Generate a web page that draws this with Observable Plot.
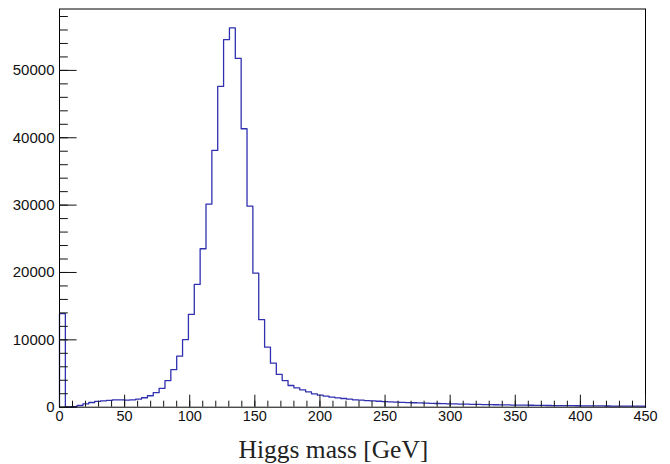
<!DOCTYPE html>
<html>
<head>
<meta charset="utf-8">
<script src="https://cdn.jsdelivr.net/npm/d3@7"></script>
<script src="https://cdn.jsdelivr.net/npm/@observablehq/plot@0.6"></script>
<style>
  html, body { margin: 0; padding: 0; background: white; }
</style>
</head>
<body>
<div id="chart"></div>
<script>
// Histogram definition: 100 bins from 0 to 450 GeV
const xMin = 0;
const xMax = 450;
const nBins = 100;

// Bin contents (entries per 4.5 GeV bin)
const counts = [
  13900, 30, 100, 250, 500, 700, 850, 950, 1000, 1080,
  1100, 1060, 1090, 1200, 1400, 1700, 2150, 2800, 3960, 5570,
  7570, 10030, 13770, 18220, 23520, 30150, 38120, 47620, 54560, 56300,
  51780, 41340, 29850, 19900, 13000, 8910, 6530, 4860, 3960, 3220,
  2880, 2580, 2280, 1990, 1780, 1630, 1490, 1390, 1290, 1190,
  1100, 1040, 980, 930, 880, 840, 800, 760, 720, 690,
  660, 630, 600, 575, 550, 525, 505, 485, 465, 445,
  425, 410, 395, 380, 365, 350, 335, 322, 310, 298,
  286, 275, 265, 255, 245, 236, 228, 220, 212, 205,
  198, 190, 183, 177, 170, 165, 160, 155, 150, 146
];

// Axis tick values
const xMajorTicks = [0, 50, 100, 150, 200, 250, 300, 350, 400, 450];
const xMinorTicks = d3.range(0, 451, 10);
const yMajorTicks = [0, 10000, 20000, 30000, 40000, 50000];
const yMinorTicks = d3.range(0, 59000, 2000);

const xTitle = "Higgs mass [GeV]";

// Build the step outline of the histogram (ROOT style)
const binWidth = (xMax - xMin) / nBins;
const outline = [{x: xMin, y: 0}];
counts.forEach((c, i) => {
  outline.push({x: xMin + i * binWidth, y: c});
  outline.push({x: xMin + (i + 1) * binWidth, y: c});
});
outline.push({x: xMax, y: 0});

const yTop = d3.max(counts) * 1.05;

const chart = Plot.plot({
  width: 670,
  height: 464,
  marginLeft: 59,
  marginRight: 25,
  marginTop: 8.5,
  marginBottom: 57.3,
  style: {fontFamily: "'Liberation Sans', Arial, sans-serif", fontSize: "14px", background: "white", color: "black"},
  x: {domain: [xMin, xMax]},
  y: {domain: [0, yTop]},
  marks: [
    Plot.line(outline, {x: "x", y: "y", stroke: "#3030b0", strokeWidth: 1.3}),
    Plot.frame({stroke: "black", strokeWidth: 1}),
    // y axis: inward ticks
    Plot.axisY({ticks: yMinorTicks, tickSize: -8.8, text: null, label: null, stroke: "#111"}),
    Plot.axisY({ticks: yMajorTicks, tickSize: -17.6, text: null, label: null, stroke: "#111"}),
    Plot.axisY({ticks: yMajorTicks, tickSize: 0, tickPadding: 5, tickFormat: d3.format("d"), label: null, fill: "#111", fontSize: 15}),
    // x axis: inward ticks
    Plot.axisX({ticks: xMinorTicks, tickSize: -6, text: null, label: null, stroke: "#111"}),
    Plot.axisX({ticks: xMajorTicks, tickSize: 0, tickPadding: 4, tickFormat: d3.format("d"), label: null, fill: "#111", fontSize: 14.5}),
    Plot.axisX({ticks: xMajorTicks, tickSize: -12, text: null, label: null, stroke: "#111"}),
    // axis title
    Plot.text([xTitle], {frameAnchor: "bottom-left", dx: 179, dy: 50.5, lineAnchor: "bottom", textAnchor: "start",
      fontFamily: "'Liberation Serif', 'Times New Roman', serif", fontSize: 25.5, fill: "#222"})
  ]
});

document.getElementById("chart").appendChild(chart);
</script>
</body>
</html>
